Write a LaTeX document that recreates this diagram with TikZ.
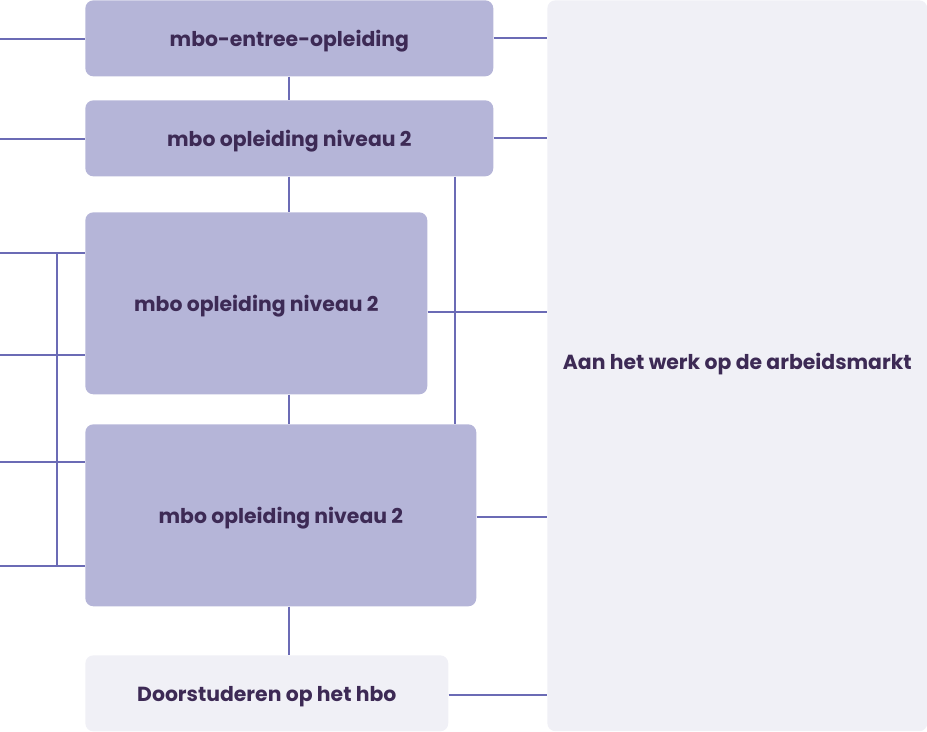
\documentclass[tikz,border=0pt]{standalone}
\usepackage{fontspec}
\setmainfont{Poppins}
\usetikzlibrary{positioning}

\definecolor{stagefill}{HTML}{B5B5D8}
\definecolor{softfill}{HTML}{F0F0F6}
\definecolor{linkcol}{HTML}{6B6BB5}
\definecolor{labeltext}{HTML}{3D2A55}

\tikzset{
    stage/.style={fill=stagefill, rounded corners=0.16cm, text=labeltext,
        font=\fontsize{11.6}{13}\selectfont\bfseries, text height=11pt, text depth=1.9pt,
        inner sep=0pt, anchor=north west},
    soft/.style={stage, fill=softfill},
    link/.style={draw=linkcol, line width=1.1pt},
}

\begin{document}
\begin{tikzpicture}[x=0.02cm, y=-0.02cm]
    % frame
    \useasboundingbox (0,0) rectangle (927,732);

    \node[stage, minimum width=8.16cm, minimum height=1.52cm] (entree) at (85,0) {mbo-entree-opleiding};
    \node[stage, minimum width=8.16cm, minimum height=1.52cm] (niv2a) at (85,100) {mbo opleiding niveau 2};
    \node[stage, minimum width=6.84cm, minimum height=3.64cm] (niv2b) at (85,212) {mbo opleiding niveau 2};
    \node[stage, minimum width=7.82cm, minimum height=3.64cm] (niv2c) at (85,424) {mbo opleiding niveau 2};
    \node[soft, minimum width=7.26cm, minimum height=1.52cm] (hbo) at (85,655) {Doorstuderen op het hbo};
    \node[soft, minimum width=7.6cm, minimum height=14.62cm, text height=8pt, text depth=3.44pt] (werk) at (547,0) {Aan het werk op de arbeidsmarkt};

    % vertical path
    \draw[link] (entree.south) -- (niv2a.north);
    \draw[link] (niv2a.south) -- (niv2a.south |- niv2b.north);
    \draw[link] (niv2a.south |- niv2b.south) -- (niv2a.south |- niv2c.north);
    \draw[link] (niv2a.south |- niv2c.south) -- (niv2a.south |- hbo.north);

    % towards work
    \coordinate (spine) at (455,0);
    \coordinate (midB) at ([yshift=-0.18cm]niv2b.east);
    \coordinate (midC) at ([yshift=-0.04cm]niv2c.east);
    \coordinate (midH) at ([yshift=-0.04cm]hbo.east);
    \draw[link] (entree.east) -- (entree.east -| werk.west);
    \draw[link] (niv2a.east) -- (niv2a.east -| werk.west);
    \draw[link] (spine |- niv2a.south) -- (spine |- niv2c.north);
    \draw[link] (midB) -- (midB -| werk.west);
    \draw[link] (midC) -- (midC -| werk.west);
    \draw[link] (midH) -- (midH -| werk.west);

    % incoming from the left
    \coordinate (inA) at (0,39);
    \coordinate (inB) at (0,139);
    \coordinate (inC) at (0,253);
    \coordinate (inD) at (0,355);
    \coordinate (inE) at (0,462);
    \coordinate (inF) at (0,566);
    \coordinate (bus) at (57,0);

    \draw[link] (inA) -- (inA -| entree.west);
    \draw[link] (inB) -- (inB -| niv2a.west);
    \draw[link] (inC) -- (inC -| niv2b.west);
    \draw[link] (inD) -- (inD -| niv2b.west);
    \draw[link] (inE) -- (inE -| niv2c.west);
    \draw[link] (inF) -- (inF -| niv2c.west);
    \draw[link] (bus |- inC) -- (bus |- inF);
\end{tikzpicture}
\end{document}
